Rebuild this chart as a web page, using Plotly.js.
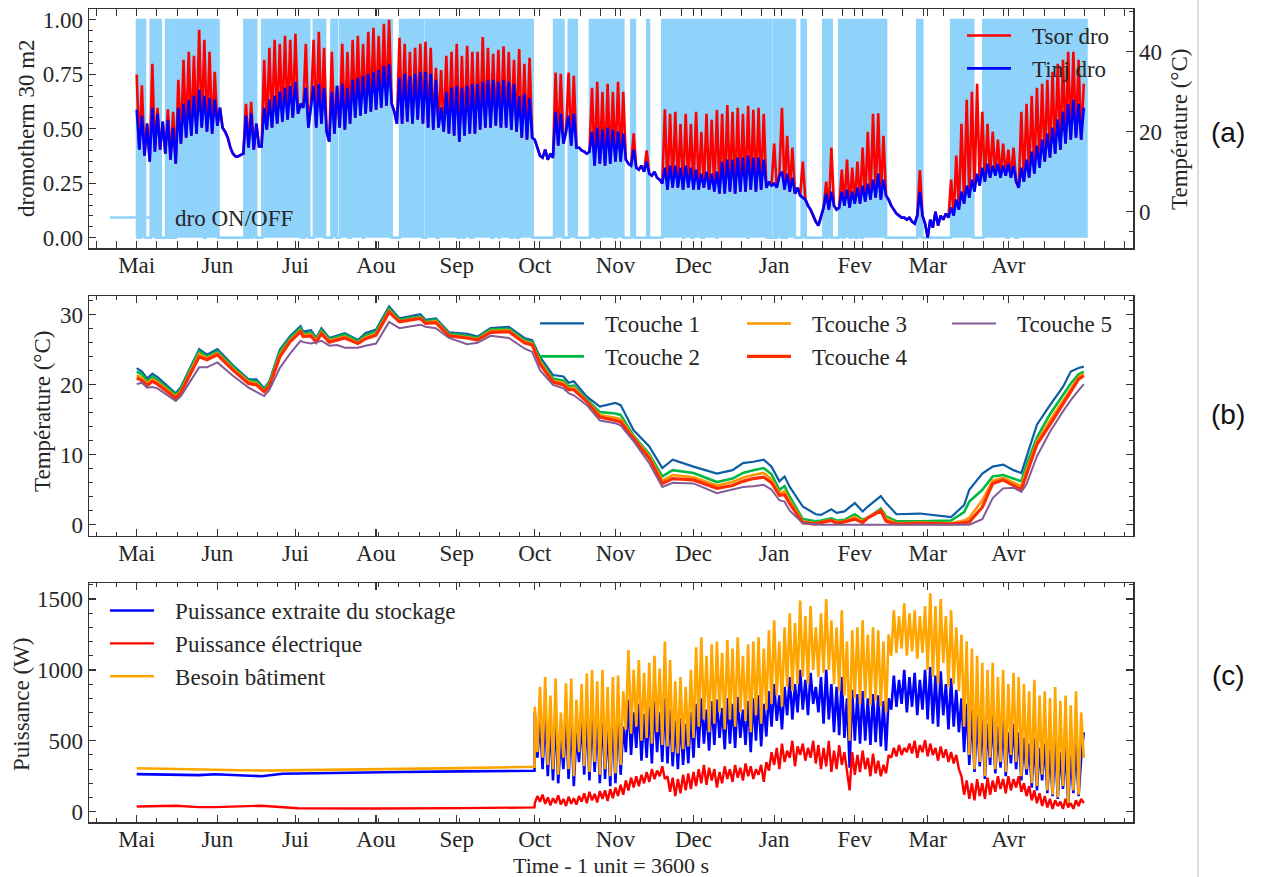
<!DOCTYPE html>
<html><head><meta charset="utf-8">
<script src="https://cdn.plot.ly/plotly-3.0.1.min.js"></script>
<style>html,body{margin:0;padding:0;background:#fff}#chart{width:1263px;height:877px}</style>
</head><body><div id="chart"></div>
<script>
// ---------- axis categories ----------
const monthNames = ['Mai','Jun','Jui','Aou','Sep','Oct','Nov','Dec','Jan','Fev','Mar','Avr'];
const monthStartHours = [0,744,1464,2208,2952,3672,4416,5136,5880,6624,7296,8040];

// ---------- panel (a) ----------
// dromotherm ON periods [startDay, endDay] (day 0 = 1 Mai)
const droOnPeriods = [[0.1,0.9],[1.5,3.2],[5.4,7.4],[8.3,9.2],[11.3,12.1],[13.1,14.1],[15.1,25.9],[26.4,31.4],
 [41.4,42.3],[42.9,44.0],[44.4,45.9],[48.3,63.4],[64.4,66.3],[68.1,72.4],[74.9,76.9],[78.1,81.3],[82.2,87.0],[87.2,98.0],
 [101.2,110.1],[111.2,115.3],[115.9,123.4],[124.0,125.5],[125.8,128.4],[129.1,136.4],[137.0,139.2],[139.5,143.7],
 [144.4,146.0],[147.0,152.2],[160.4,164.0],[166.1,169.1],[174.2,176.8],[177.8,183.8],[184.1,187.0],[190.1,191.5],
 [196.2,196.9],[202.0,210.1],[210.3,213.3],[213.9,217.1],[218.0,222.9],[223.1,234.8],[235.1,242.4],[243.4,243.8],
 [244.9,245.7],[246.1,247.9],[248.5,249.3],[249.8,253.0],[255.6,257.1],[263.9,265.2],[265.7,267.1],[270.0,271.4],
 [271.9,274.1],[274.8,276.3],[276.9,278.3],[279.2,288.0],[300.0,301.9],[313.0,321.5],[325.4,334.7],[335.1,337.9],[338.5,365.0]];

// daily values from day 0, degC
const tinjDro = [
 25.5,15.5,24,14,22,12.5,26,15,24.5,15.5, 22.5,14.5,23,13,21,12,26,17,27,18.5,
 28,19,29,19.5,30.5,21,29,20,28.5,19.5, 28,21.5,26,21,20,18.5,16,14.5,13.8,13.8,
 14.2,14.5,24,16,24.5,15.5,22,16.3,16.3,26, 20.5,28,21,29,22,30,22.5,31,23,31.5,
 23.5,32.5,24.5,27,26,31,21,27,31.5,21, 32,22,31,20,17.5,30,19.5,31.5,21,32,
 20.5,31,22,33,23.5,33.5,24,34,24.5,34.5, 25,35,25.5,35.5,26,36.5,26.5,37,27,25,
 22,33.5,22,34.5,22.5,34,22,34.5,23,35, 22,35,21,34.5,20.5,33,21,26,20,30,
 19.5,31,19,31.5,17.5,31,19,31.5,19.5,32, 19.5,32,20.5,32.5,21,33,21,33,21.5,32.5,
 21,33,21,32.5,20.5,32,20,29,18.5,29.5, 18,28.5,18.5,18,16,14,13.5,15.5,13,14.5,
 13.5,25,16.5,24.5,17,20,24,16.5,24.5,16, 16,15.3,15,14.5,15,20,11.5,21,12,20.5,
 11.5,21,12,20.5,12.5,20,12.5,19.5,13,12, 11.5,15.5,11,10.5,11.5,10,12.5,9.5,9,10,
 8.5,8,7,11,5.5,11.5,6,11.5,6,11, 5.5,11.5,6,11,5.5,10.5,5.5,9.5,6,10,
 5.5,9.5,5,10,4.5,12.5,4.5,13,5,13, 4.5,13.5,5,13.5,5,14,5.5,13.5,5,13.5,
 5.5,13,6,7.5,6.5,7,6,9,10,5.5, 9.5,5,8.5,4.5,6,4,3.5,3,1.5,0.5,
 -1,-2.5,-3.5,-1,1,4.5,0.5,5,1.5,0.5, 1,5,1.5,5.5,1,5,2,6,2,6.5,
 2.5,7,3,8,3.5,9.5,3,8,4,3, 1.5,0.5,-0.5,-1,-1.5,-1.5,-2,-1.5,-2.5,-3,
 -1,5,-1,-3,-6.5,-2,-4,0,-3.5,-1, -2,-0.5,-1.5,1,-1,3,0.5,5,2,6.5,
 3.5,8,5,9.5,6.5,11,7.5,12,8.5,11.5, 9,12,8.5,11.5,9,12,8.5,11.5,7.5,6,
 11,7.5,13,8.5,15,9.5,16.5,11,18,12.5, 19.5,13.5,21,14.5,23,15.5,25,17,27,18,
 28,18.5,27,18,26];
const tsorDro = [
 34.3,15.5,31.6,14,22,12.5,37,15,26,15.5, 22.5,14.5,25.6,13,25,12,33,17,38,18.5,
 40,19,39,19.5,45.5,21,43,20,40,19.5, 35,21.5,26,21,20,18.5,16,14.5,13.8,13.8,
 14.2,14.5,27,16,27.5,15.5,22,16.3,16.3,38, 20.5,41,21,43,22,42,22.5,44,23,43,
 23.5,44.5,24.5,27,26,42,21,27,43,21, 45,22,41,20,17.5,40,19.5,31.5,21,42,
 20.5,40,22,43,23.5,44,24,42,24.5,45, 25,46,25.5,44,26,47,26.5,48,27,25,
 22,43.5,22,42,22.5,40,22,41,23,42, 22,42.5,21,41,20.5,36,21,35.4,20,39,
 19.5,40,19,42,17.5,39,19,41.5,19.5,40, 19.5,40,20.5,43.7,21,41,21,39.5,21.5,40.5,
 21,41.4,21,40,20.5,38,20,40.7,18.5,37, 18,38.5,18.5,18,16,14,13.5,15.5,13,14.5,
 13.5,34.8,16.5,34.5,17,20,34.8,16.5,34,16, 16,15.3,15,14.5,15,31,11.5,32.5,12,30,
 11.5,32,12,30,12.5,32.5,12.5,30,13,12, 11.5,19.6,11,10.5,11.5,10,15.3,9.5,9,10,
 8.5,8,7,25.6,5.5,24.5,6,25,6,22, 5.5,24.5,6,22,5.5,25,5.5,20,6,24.5,
 5.5,23,5,25.5,4.5,24.5,4.5,26.7,5,25, 4.5,26,5,24.5,5,26.5,5.5,25.5,5,26,
 5.5,24.5,6,7.5,6.5,17,6,9,26,5.5, 19,5,16,4.5,6,4,12.5,3,1.5,0.5,
 -1,-2.5,-3.5,-1,1,7.5,0.5,16,1.5,0.5, 1,10.5,1.5,13,1,11,2,12.5,2,16,
 2.5,20,3,24.5,3.5,24.6,3,19,4,3, 1.5,0.5,-0.5,-1,-1.5,-1.5,-2,-1.5,-2.5,-3,
 -1,10.4,-1,-3,-6.5,-2,-4,0,-3.5,-1, -2,-0.5,-1.5,8,-1,14,0.5,22,2,28,
 3.5,30,5,32,6.5,25,7.5,22,8.5,20, 9,18,8.5,17,9,15.5,8.5,16,7.5,6,
 25,7.5,27,8.5,29,9.5,31,11,32,12.5, 33,13.5,35,14.5,37,15.5,38,17,40,18,
 40,18.5,38,18,32];

// ---------- panel (b) ----------
const layerDays = [0,2,4,6,8, 15,17,20,24,27, 31,37,43,46,49, 51,55,59,63,64, 67,69,71,74,77, 80,85,88,92,97,
 101,109,111,115,120, 127,131,136,143,149, 152,155,160,164,166, 168,173,178,184,186, 191,197,202,206,214,
 223,229,233,237,241, 244,247,249,251,256, 261,263,267,269,272, 276,279,281,286,288, 292,301,313,318,320,
 325,329,333,337,340, 342,346,351,356,359, 362,364];
const tcouche1 = [22.4,21.9,20.9,21.6,21.1, 18.8,19.7,22.1,25.1,24.3, 25.1,22.8,20.8,20.8,19.5, 20.5,25.0,27.0,28.4,27.6,
 27.8,26.7,28.1,26.7,27.1, 27.4,26.4,27.4,27.9,31.2, 29.5,30.1,29.3,29.5,27.5, 27.3,26.9,28.1,28.3,26.7,
 26.4,24.0,21.4,21.2,20.3, 20.5,18.3,16.9,17.4,17.1, 13.5,11.2,8.1,9.3,8.3, 7.3,7.8,8.8,9.0,9.3,
 8.3,6.2,6.9,5.4,2.6, 1.5,1.4,2.2,1.7,1.9, 3.1,1.9,2.6,4.1,3.1, 1.5,1.6,1.1,2.8,5.0,
 7.3,8.3,8.6,7.8,7.4, 9.7,14.3,17.1,19.7,21.9, 22.4,22.6];
const tcouche2 = [21.9,21.5,20.5,21.2,20.7, 18.6,19.4,21.7,24.8,24.0, 24.8,22.6,20.6,20.5,19.3, 20.3,24.7,26.7,28.1,27.3,
 27.5,26.5,27.8,26.5,26.9, 27.2,26.2,27.1,27.6,30.9, 29.3,29.8,29.1,29.3,27.3, 27.0,26.7,27.9,28.0,26.4,
 26.1,23.6,20.9,20.6,19.8, 19.9,17.9,16.1,15.9,15.7, 12.7,10.1,6.9,7.8,7.4, 6.1,6.6,7.4,7.8,8.1,
 7.2,5.0,5.5,4.0,0.8, 0.5,0.6,0.9,0.6,0.7, 1.5,0.7,1.0,2.3,1.2, 0.5,0.5,0.6,1.8,3.3,
 5.0,6.9,7.1,6.6,6.2, 8.6,12.5,15.8,18.5,20.2, 21.5,21.9];
const tcouche3 = [21.4,21.0,20.2,20.8,20.4, 18.3,19.1,21.3,24.4,23.8, 24.5,22.3,20.4,20.2,19.1, 20.0,24.3,26.4,27.8,27.1,
 27.2,26.3,27.5,26.3,26.6, 26.9,26.0,26.8,27.3,30.6, 29.1,29.6,28.9,29.1,27.1, 26.8,26.5,27.7,27.8,26.2,
 25.9,23.3,20.6,20.3,19.5, 19.6,17.7,15.7,15.3,15.1, 12.5,9.8,6.3,7.1,6.8, 5.6,6.1,6.7,7.1,7.4,
 6.5,4.5,4.8,3.4,0.5, 0.2,0.4,0.7,0.4,0.5, 1.1,0.5,1.0,2.1,0.9, 0.2,0.3,0.2,0.6,1.0,
 3.5,6.3,6.7,6.0,5.5, 7.8,11.9,14.9,17.8,19.5, 21.1,21.6];
const tcouche4 = [21.0,20.6,19.9,20.5,20.1, 18.1,18.9,21.0,24.0,23.6, 24.3,22.1,20.2,20.0,19.0, 19.8,24.0,26.2,27.6,26.9,
 27.0,26.1,27.3,26.1,26.4, 26.7,25.9,26.6,27.1,30.4, 29.0,29.5,28.8,28.9,27.0, 26.7,26.4,27.5,27.6,26.0,
 25.7,23.0,20.4,20.0,19.3, 19.3,17.6,15.4,14.9,14.7, 12.3,9.5,5.9,6.6,6.4, 5.2,5.6,6.2,6.6,6.8,
 6.0,4.2,4.3,3.0,0.3, 0.1,0.3,0.6,0.2,0.4, 0.8,0.3,1.0,2.0,0.5, 0.1,0.2,0.1,0.3,0.4,
 2.5,5.9,6.4,5.6,5.0, 7.2,11.5,14.3,17.3,19.0, 20.8,21.3];
const tcouche5 = [20.1,20.3,19.6,19.7,19.5, 17.7,18.4,20.2,22.5,22.5, 23.2,21.3,19.6,19.0,18.4, 19.3,22.4,24.5,26.3,26.1,
 25.9,26.1,26.3,25.6,25.7, 25.3,25.3,25.6,25.9,29.0, 28.1,28.6,28.3,28.1,26.7, 25.8,26.0,27.0,26.7,25.2,
 24.7,22.1,20.0,19.5,18.8, 18.5,17.1,14.9,14.5,14.2, 11.9,8.8,5.4,6.0,5.9, 4.5,5.0,5.4,5.5,5.7,
 5.0,3.5,3.3,2.0,0.2, 0,0,0,0,0, 0,0,0,0,0, 0,0,0,0,0,
 0.8,3.8,5.2,5.3,4.7, 5.8,9.8,13.3,16.2,17.8, 19.2,20.1];

// ---------- panel (c) ----------
// summer (no heating) part, day knots
const summerDays = [0,15,24,30,48,56,62,92,101,125,152.9];
const besoinSummer = [306,300,295,294,290,291,292,298,300,307,317];
const extraiteSummer = [265,260,258,264,250,268,270,275,280,284,289];
const elecSummer = [36,42,32,32,42,30,24,22,22,25,30];
// heating season, daily values from day 153 (1 Oct)
const heatStartDay = 153;
const besoinHeat = [
 740,420,880,380,950,330,820,300,940,260, 700,380,905,300,940,250,790,420,900,320,
 975,280,1000,350,920,260,1000,300,880,250, 950,270,960,330,850,580,1140,550,1000,600,
 1070,500,980,520,1050,480,1100,560,1010,470, 1200,460,1070,420,920,410,950,440,880,460,
 1000,520,1160,600,1230,650,1100,560,1180,620, 1200,700,1120,580,1210,650,1150,600,1230,700,
 1100,640,1180,560,1200,680,1230,620,1150,720, 1280,760,1350,820,1200,740,1300,880,1400,850,
 1330,900,1490,950,1380,900,1450,1000,1300,950, 1400,980,1500,1000,1350,900,1300,850,1420,820,
 1200,500,1280,800,1300,760,1350,800,1250,750, 1300,780,1280,740,1200,700,1250,1100,1420,1120,
 1380,1150,1470,1100,1400,1130,1420,1080,1380,1120, 1450,1000,1540,950,1450,900,1500,1050,1380,880,
 1420,900,1300,850,1250,600,1200,400,1150,300, 1100,350,1050,250,1000,380,1050,300,950,350,
 1000,280,900,400,980,350,950,250,900,300, 850,200,930,180,820,260,850,150,800,120,
 880,100,780,180,820,60,750,150,850,120, 700,380];
const extraiteHeat = [
 700,380,650,300,700,250,620,220,680,200, 520,300,650,230,680,180,560,350,660,260,
 700,220,720,280,650,200,720,230,620,180, 680,200,700,260,600,420,790,400,700,450,
 760,360,690,380,740,340,780,420,700,350, 800,340,720,320,640,300,660,330,620,340,
 700,380,760,450,800,480,720,430,780,470, 790,520,730,440,800,480,760,450,810,520,
 720,470,780,420,800,500,820,460,760,530, 850,600,900,640,820,580,880,680,950,650,
 900,700,1000,720,930,680,980,760,880,700, 950,620,1000,650,900,560,880,540,950,520,
 800,310,860,500,830,480,850,500,800,470, 830,490,820,460,780,430,800,720,960,740,
 930,760,1000,700,950,740,980,680,930,720, 1000,650,1020,620,960,600,990,680,900,580,
 940,600,860,560,800,420,760,330,720,280, 680,320,650,230,620,330,680,270,600,310,
 640,250,560,340,620,300,560,220,520,260, 480,170,520,150,450,220,480,130,440,110,
 500,90,420,160,460,50,400,130,480,110, 380,560];
const elecHeat = [
 60,110,70,120,55,100,45,95,60,115, 50,90,40,105,55,95,50,110,70,130,
 60,140,80,125,65,145,90,150,75,160, 95,170,110,190,120,220,150,240,170,250,
 180,260,200,280,210,300,230,290,250,320, 230,250,140,240,110,230,130,260,150,270,
 160,280,180,300,200,330,190,310,220,300, 170,280,200,320,230,300,210,330,240,310,
 220,340,250,320,230,300,260,330,210,350, 290,420,330,450,300,480,350,430,380,500,
 320,460,400,480,360,450,380,500,340,470, 300,450,320,500,280,430,300,470,330,420,
 290,150,420,260,400,280,430,300,380,250, 410,270,360,250,330,270,400,380,450,390,
 470,400,450,420,480,410,500,380,470,420, 505,390,480,400,450,360,460,380,440,350,
 420,340,400,300,250,120,220,90,200,80, 230,110,200,90,240,120,220,140,250,160,
 230,130,250,150,230,170,250,140,200,110, 180,80,150,60,130,40,110,30,90,20,
 80,40,70,20,90,30,60,20,80,40, 90,60];

// ---------- checks ----------
function need(a, n, name){ if(a.length!==n) throw new Error(name+' length '+a.length+' != '+n); }
need(tinjDro,365,'tinj'); need(tsorDro,365,'tsor');
[tcouche1,tcouche2,tcouche3,tcouche4,tcouche5].forEach((a,i)=>need(a,layerDays.length,'tcouche'+(i+1)));
need(besoinHeat,212,'besoin'); need(extraiteHeat,212,'extraite'); need(elecHeat,212,'elec');

// ---------- helpers ----------
const H = 24; // hours per day
const dailyHours = (start, n) => Array.from({length:n}, (_, i) => (start + i) * H);
const toHours = d => d.map(v => v * H);
const W = 1263, HT = 877;
const px = x => x / W, py = y => 1 - y / HT;

const onX = [0], onY = [0];
droOnPeriods.forEach(([a,b]) => { onX.push(a*H, a*H, b*H, b*H); onY.push(0,1,1,0); });
onX.push(365*H); onY.push(0);

const heatX = dailyHours(heatStartDay, besoinHeat.length);
const cX = toHours(summerDays).concat(heatX);

const serif = 'Liberation Serif, DejaVu Serif, serif';
const FS = 23;
const INK = '#262626';
const PAD = '\u2002\u2009'; // gap between legend line and label
const SKY = '#8fd3fb';

const traces = [
 {x:onX, y:onY, xaxis:'x', yaxis:'y', mode:'lines', name:'dro ON/OFF', fill:'tozeroy',
  fillcolor:SKY, line:{color:SKY, width:2}, showlegend:false},
 {x:onX, y:onY, xaxis:'x', yaxis:'y', mode:'lines', name:PAD+'dro ON/OFF',
  line:{color:SKY, width:2.5}, legend:'legend'},
 {x:dailyHours(0,365), y:tsorDro, xaxis:'x', yaxis:'y2', mode:'lines', name:PAD+'Tsor dro',
  line:{color:'#ff0000', width:2.6}, legend:'legend2'},
 {x:dailyHours(0,365), y:tinjDro, xaxis:'x', yaxis:'y2', mode:'lines', name:PAD+'Tinj dro',
  line:{color:'#0000ff', width:2.6}, legend:'legend2'},
 {x:toHours(layerDays), y:tcouche1, xaxis:'x2', yaxis:'y3', mode:'lines', name:PAD+'Tcouche 1', line:{color:'#0C5DA5', width:2.2}, legend:'legend3'},
 {x:toHours(layerDays), y:tcouche2, xaxis:'x2', yaxis:'y3', mode:'lines', name:PAD+'Tcouche 2', line:{color:'#00B945', width:2.6}, legend:'legend3'},
 {x:toHours(layerDays), y:tcouche3, xaxis:'x2', yaxis:'y3', mode:'lines', name:PAD+'Tcouche 3', line:{color:'#FF9500', width:2.6}, legend:'legend4'},
 {x:toHours(layerDays), y:tcouche4, xaxis:'x2', yaxis:'y3', mode:'lines', name:PAD+'Tcouche 4', line:{color:'#FF2C00', width:3.2}, legend:'legend4'},
 {x:toHours(layerDays), y:tcouche5, xaxis:'x2', yaxis:'y3', mode:'lines', name:PAD+'Tcouche 5', line:{color:'#845B97', width:2}, legend:'legend5'},
 {x:cX, y:extraiteSummer.concat(extraiteHeat), xaxis:'x3', yaxis:'y4', mode:'lines', name:PAD+'Puissance extraite du stockage', line:{color:'#0000ff', width:2.6}, legend:'legend6'},
 {x:cX, y:elecSummer.concat(elecHeat), xaxis:'x3', yaxis:'y4', mode:'lines', name:PAD+'Puissance électrique', line:{color:'#ff0000', width:2.4}, legend:'legend6'},
 {x:cX, y:besoinSummer.concat(besoinHeat), xaxis:'x3', yaxis:'y4', mode:'lines', name:PAD+'Besoin bâtiment', line:{color:'#ffa500', width:2.6}, legend:'legend6'}
];

const xDom = [px(89), px(1133)];
const tickFont = {family: serif, size: FS, color: INK};
function xAx(anchor){
 return {domain:xDom, anchor, range:[-440, 9190], tickmode:'array', tickvals:monthStartHours, ticktext:monthNames,
  ticks:'inside', ticklen:7, tickwidth:1.2, tickcolor:'#333', showline:true, linecolor:'#333', linewidth:1.5,
  mirror:'allticks', showgrid:false, zeroline:false, tickfont:tickFont, ticklabelstandoff:-4,
  minor:{tickmode:'linear', tick0:0, dtick:186, ticks:'inside', ticklen:4, tickwidth:1, tickcolor:'#333', showgrid:false}};
}
function yAx(dom, anchor, range, vals, minorStep, extra){
 return Object.assign({domain:dom, anchor, range, tickmode:'array', tickvals:vals,
  ticks:'inside', ticklen:7, tickwidth:1.2, tickcolor:'#333', showline:true, linecolor:'#333', linewidth:1.5,
  mirror:'allticks', showgrid:false, zeroline:false, tickfont:tickFont,
  minor:{tickmode:'linear', tick0:0, dtick:minorStep, ticks:'inside', ticklen:4, tickwidth:1, tickcolor:'#333', showgrid:false}}, extra||{});
}
const domA = [py(248), py(9)], domB = [py(535.7), py(296)], domC = [py(822.3), py(583.3)];

const legBase = {font:{family:serif, size:FS, color:INK}, bgcolor:'rgba(0,0,0,0)', borderwidth:0,
  xanchor:'left', yanchor:'top', itemwidth:44, tracegroupgap:0};

const layout = {
 width:W, height:HT, margin:{l:0,r:0,t:0,b:0}, paper_bgcolor:'#fff', plot_bgcolor:'rgba(0,0,0,0)',
 showlegend:true, font:{family:serif, size:FS, color:INK},
 xaxis: xAx('y'),
 yaxis: yAx(domA, 'x', [-0.047, 1.05], [0,0.25,0.5,0.75,1], 0.05, {tickformat:'.2f', mirror:false}),
 yaxis2: yAx(domA, 'x', [-9.1, 50.7], [0,20,40], 5, {overlaying:'y', side:'right', mirror:false}),
 xaxis2: xAx('y3'),
 yaxis3: yAx(domB, 'x2', [-1.57, 32.7], [0,10,20,30], 2),
 xaxis3: xAx('y4'),
 yaxis4: yAx(domC, 'x3', [-75, 1611], [0,500,1000,1500], 100),
 legend:  Object.assign({}, legBase, {x:px(105), y:py(196)}),
 legend2: Object.assign({}, legBase, {x:px(962), y:py(14)}),
 legend3: Object.assign({}, legBase, {x:px(535), y:py(302)}),
 legend4: Object.assign({}, legBase, {x:px(742), y:py(302)}),
 legend5: Object.assign({}, legBase, {x:px(947), y:py(302)}),
 legend6: Object.assign({}, legBase, {x:px(105), y:py(589)}),
 annotations: [
  {text:'dromotherm 30 m2', x:px(26), y:py(128), textangle:-90},
  {text:'Température (°C)', x:px(1179), y:py(130), textangle:-90},
  {text:'Température (°C)', x:px(42), y:py(412), textangle:-90},
  {text:'Puissance (W)', x:px(21), y:py(704), textangle:-90},
  {text:'Time - 1 unit = 3600 s', x:px(611), y:py(865), borderpad:0, font:{family:serif, size:22, color:INK}},
  {text:'(a)', x:px(1228), y:py(132), font:{family:'Liberation Sans, Arial, sans-serif', size:28, color:'#111'}},
  {text:'(b)', x:px(1228), y:py(415), font:{family:'Liberation Sans, Arial, sans-serif', size:28, color:'#111'}},
  {text:'(c)', x:px(1228), y:py(675), font:{family:'Liberation Sans, Arial, sans-serif', size:28, color:'#111'}}
 ].map(a => Object.assign({xref:'paper', yref:'paper', xanchor:'center', yanchor:'middle', showarrow:false,
   font:{family:serif, size:FS, color:INK}}, a)),
 shapes: [{type:'line', xref:'paper', yref:'paper', x0:px(1198), x1:px(1198), y0:0, y1:1, line:{color:'#d0d0d0', width:1.5}}]
};

Plotly.newPlot('chart', traces, layout, {staticPlot:true});
</script></body></html>
